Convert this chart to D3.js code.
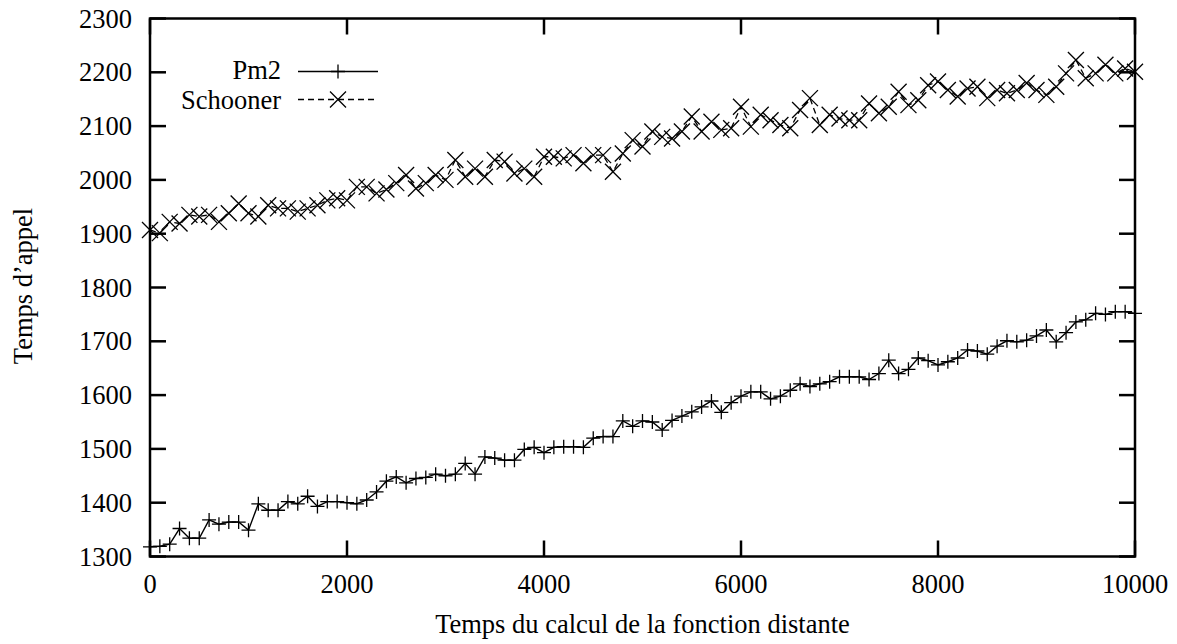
<!DOCTYPE html>
<html><head><meta charset="utf-8">
<script src="https://cdn.jsdelivr.net/npm/d3@7"></script>
<style>body{margin:0;background:#fff}svg{display:block}text{font-family:"Liberation Serif","Times New Roman",serif;fill:#000}</style>
</head><body>
<script>
const xStep = 100;
const pm2 = [1318,1319,1323,1352,1334,1334,1368,1360,1364,1364,1349,1398,1386,1386,1402,1398,1412,1393,1402,1402,1400,1398,1405,1420,1440,1448,1437,1445,1447,1453,1450,1453,1473,1453,1485,1483,1479,1479,1499,1503,1493,1503,1504,1504,1503,1520,1523,1523,1552,1542,1552,1550,1535,1553,1561,1569,1578,1589,1568,1586,1598,1606,1606,1593,1598,1609,1621,1616,1621,1625,1634,1634,1634,1629,1640,1665,1640,1648,1669,1664,1656,1662,1669,1684,1682,1676,1691,1701,1699,1702,1710,1721,1699,1716,1736,1740,1752,1750,1755,1755,1752];
const schooner = [1907,1901,1922,1919,1935,1932,1935,1922,1938,1956,1938,1932,1953,1947,1947,1941,1947,1953,1962,1966,1962,1987,1987,1975,1982,1994,2009,1984,1994,2009,2000,2037,2006,2021,2006,2037,2034,2012,2021,2006,2043,2043,2040,2046,2031,2046,2046,2015,2049,2074,2062,2090,2080,2077,2090,2118,2090,2108,2093,2096,2136,2099,2121,2111,2102,2096,2130,2152,2102,2121,2114,2111,2111,2142,2124,2136,2164,2139,2148,2176,2183,2167,2155,2170,2173,2152,2167,2161,2167,2180,2167,2158,2173,2198,2223,2189,2198,2214,2198,2207,2201];
const xTicks = [0,2000,4000,6000,8000,10000];
const yTicks = [1300,1400,1500,1600,1700,1800,1900,2000,2100,2200,2300];
const seriesNames = ["Pm2","Schooner"];
const xLabel = "Temps du calcul de la fonction distante";
const yLabel = "Temps d\u2019appel";

const W = 1177, H = 644;
const m = {l:150, r:1135, t:18.5, b:556.5};
const svg = d3.select("body").append("svg").attr("width",W).attr("height",H);
const x = d3.scaleLinear().domain([0,10000]).range([m.l,m.r]);
const y = d3.scaleLinear().domain([1300,2300]).range([m.b,m.t]);
const FS = 26.5;

// ticks (inward, mirrored)
const tl = 16;
const ax = svg.append("g").attr("stroke","#000").attr("stroke-width",2.5);
xTicks.forEach(v=>{
  ax.append("line").attr("x1",x(v)).attr("x2",x(v)).attr("y1",m.b).attr("y2",m.b-tl);
  ax.append("line").attr("x1",x(v)).attr("x2",x(v)).attr("y1",m.t).attr("y2",m.t+tl);
});
yTicks.forEach(v=>{
  ax.append("line").attr("x1",m.l).attr("x2",m.l+tl).attr("y1",y(v)).attr("y2",y(v));
  ax.append("line").attr("x1",m.r).attr("x2",m.r-tl).attr("y1",y(v)).attr("y2",y(v));
});
svg.append("rect").attr("x",m.l).attr("y",m.t).attr("width",m.r-m.l).attr("height",m.b-m.t)
  .attr("fill","none").attr("stroke","#000").attr("stroke-width",2.5);

svg.append("g").selectAll("text").data(xTicks).join("text")
  .attr("x",d=>x(d)).attr("y",m.b+36.5).attr("text-anchor","middle").attr("font-size",FS).text(d=>d);
svg.append("g").selectAll("text").data(yTicks).join("text")
  .attr("x",132).attr("y",d=>y(d)+9).attr("text-anchor","end").attr("font-size",FS).text(d=>d);

svg.append("text").attr("x",642.5).attr("y",633).attr("text-anchor","middle").attr("font-size",FS).text(xLabel);
svg.append("text").attr("transform","translate(32,286) rotate(-90)").attr("text-anchor","middle").attr("font-size",FS).text(yLabel);

const line = d3.line().x((d,i)=>x(i*xStep)).y(d=>y(d));
const plus = (g,cx,cy,s)=>{g.append("path").attr("d",`M${cx-s},${cy}H${cx+s}M${cx},${cy-s}V${cy+s}`).attr("stroke","#000").attr("stroke-width",1.3).attr("fill","none");};
const cross = (g,cx,cy,s)=>{g.append("path").attr("d",`M${cx-s},${cy-s}L${cx+s},${cy+s}M${cx-s},${cy+s}L${cx+s},${cy-s}`).attr("stroke","#000").attr("stroke-width",1.3).attr("fill","none");};

const gP = svg.append("g");
gP.append("path").datum(pm2).attr("d",line).attr("fill","none").attr("stroke","#000").attr("stroke-width",1.4);
pm2.forEach((v,i)=>plus(gP,x(i*xStep),y(v),7));
const gS = svg.append("g");
gS.append("path").datum(schooner).attr("d",line).attr("fill","none").attr("stroke","#000").attr("stroke-width",1.3).attr("stroke-dasharray","6,4");
schooner.forEach((v,i)=>cross(gS,x(i*xStep),y(v),8));

// legend
const lg = svg.append("g");
lg.append("text").attr("x",281).attr("y",78.5).attr("text-anchor","end").attr("font-size",FS).text(seriesNames[0]);
lg.append("line").attr("x1",298).attr("x2",378).attr("y1",71.5).attr("y2",71.5).attr("stroke","#000").attr("stroke-width",1.4);
plus(lg,338,71.5,7);
lg.append("text").attr("x",281).attr("y",108.5).attr("text-anchor","end").attr("font-size",FS).text(seriesNames[1]);
lg.append("line").attr("x1",298).attr("x2",378).attr("y1",99.5).attr("y2",99.5).attr("stroke","#000").attr("stroke-width",1.3).attr("stroke-dasharray","6,4");
cross(lg,338,99.5,8);
</script>
</body></html>
